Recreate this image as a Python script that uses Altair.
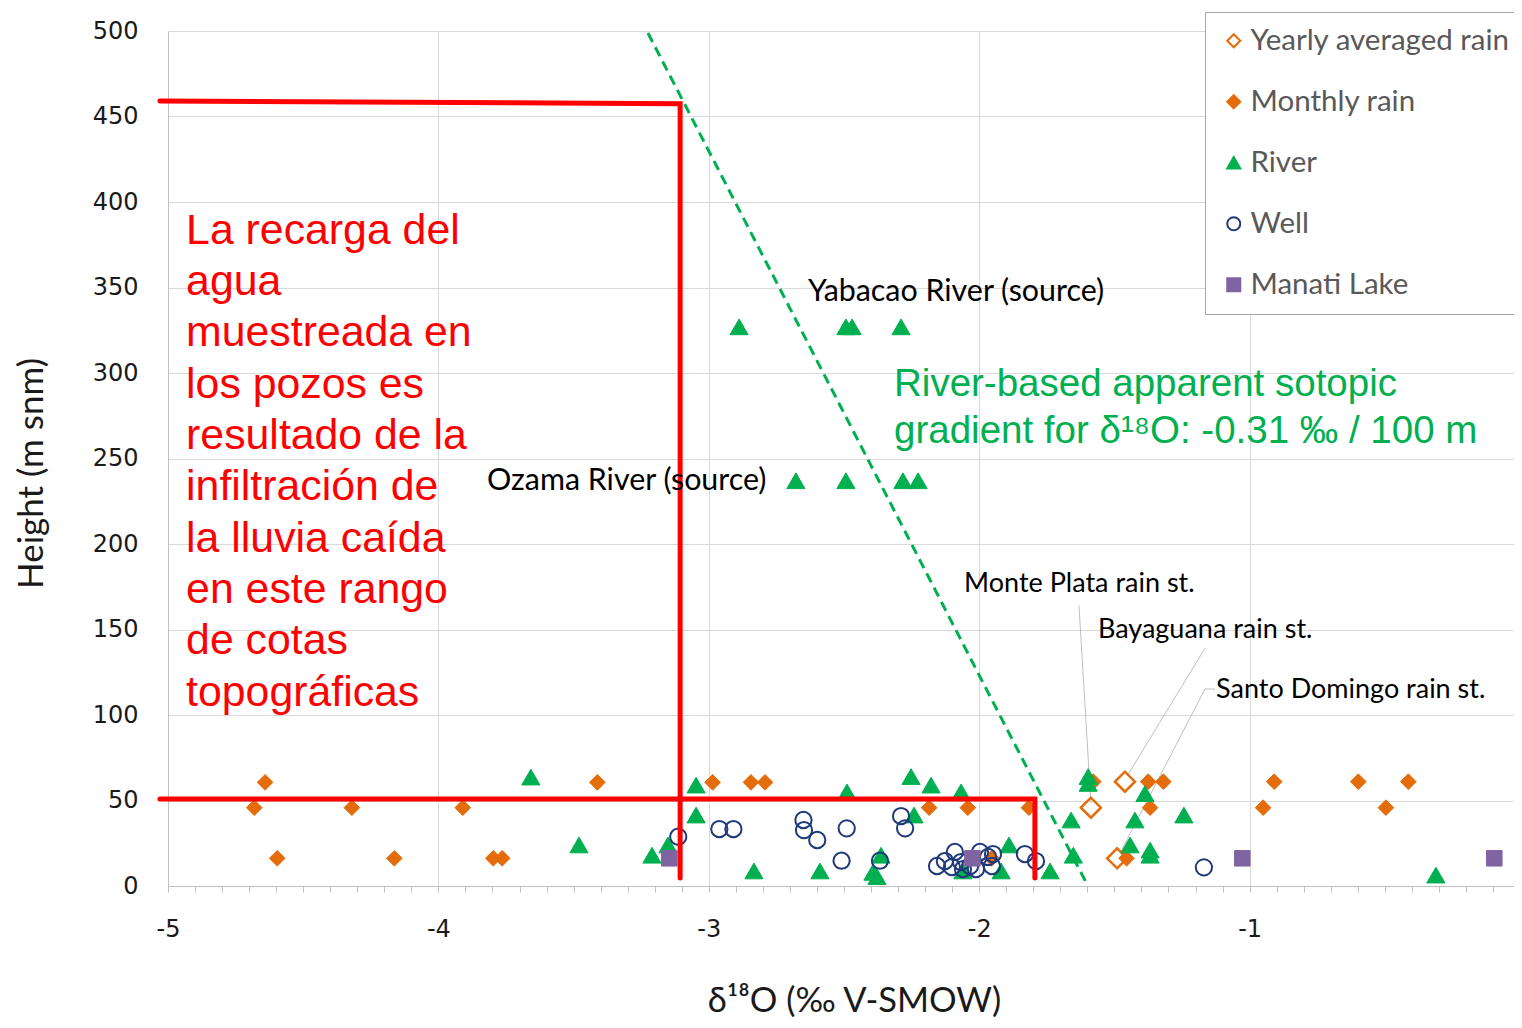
import altair as alt
import pandas as pd

# ---------------- data (δ18O in ‰ V-SMOW, height in m) ----------------
series_order = ["Yearly averaged rain", "Monthly rain", "River", "Well", "Manati Lake"]

yearly_x = [-1.587, -1.461, -1.490]
yearly_h = [45.8, 61.0, 16.2]

monthly_x = [-4.641, -4.681, -4.596, -4.320, -4.163, -3.910, -3.797, -3.764, -3.412,
             -2.986, -2.844, -2.792, -2.185, -2.042, -1.816, -1.954,
             -1.578, -1.375, -1.319, -1.368, -1.455, -0.909, -0.950, -0.598, -0.496, -0.413]
monthly_h = [60.6, 45.8, 16.2, 45.8, 16.2, 45.8, 16.2, 16.2, 60.6,
             60.6, 60.6, 60.6, 45.8, 45.8, 45.8, 16.2,
             61.0, 61.0, 61.0, 45.8, 16.2, 61.0, 45.8, 61.0, 45.8, 61.0]

river_x = [-2.888, -2.493, -2.470, -2.289,
           -2.678, -2.493, -2.282, -2.226,
           -3.658, -3.480, -3.210, -3.151, -3.047, -3.047, -2.833, -2.589, -2.489,
           -2.393, -2.378, -2.363, -2.252, -2.178, -2.067, -2.241, -2.060, -1.919,
           -1.890, -1.738, -1.597, -1.597, -1.660, -1.652, -1.387, -1.424, -1.442,
           -1.368, -1.368, -1.243, -0.311]
river_h = [327, 327, 327, 327,
           237, 237, 237, 237,
           63.7, 24, 18, 24, 59, 41.5, 8.8, 8.8, 55,
           8, 5.5, 18, 64, 59, 55, 41.5, 8.8, 8.8,
           24, 8.8, 64, 60, 38.6, 18, 54, 38.6, 24,
           21, 18, 41.5, 6.4]

well_x = [-3.113, -2.961, -2.909, -2.650, -2.648, -2.599, -2.490, -2.509, -2.367,
          -2.289, -2.274, -2.156, -2.127, -2.090, -2.101, -2.067, -2.060, -2.034,
          -2.012, -1.997, -1.967, -1.953, -1.949, -1.831, -1.790, -1.169]
well_h = [28.8, 33.3, 33.3, 38.6, 32.7, 26.9, 33.7, 14.8, 14.8,
          40.9, 33.7, 11.7, 14.6, 19.9, 11.1, 14.0, 9.9, 11.7,
          9.9, 19.9, 17.0, 11.7, 18.7, 18.7, 14.6, 10.9]

manati_x = [-3.146, -2.025, -1.027, -0.095]
manati_h = [16.2, 16.2, 16.2, 16.2]

# red range lines (drawn shapes)
red_x = [-5.03, -3.106, -3.106, -5.03, -1.794, -1.794]
red_h = [459.0, 457.5, 4.7, 50.9, 50.9, 4.7]
red_seg = [1, 1, 1, 2, 2, 2]

# river-based gradient line
grad_x = [-3.225, -1.598]
grad_h = [498.8, 0.0]

# leader lines for rain stations
lead_x = [-1.631, -1.587, -1.165, -1.453, -1.128, -1.165, -1.479]
lead_h = [164.0, 48.5, 139.0, 64.3, 115.2, 115.2, 19.3]
lead_seg = [1, 1, 2, 2, 3, 3, 3]

# labels
river_label_text = ["Yabacao River (source)", "Ozama River (source)"]
river_label_x = [-2.633, -3.820]
river_label_h = [347.4, 236.8]
rain_label_text = ["Monte Plata rain st.", "Bayaguana rain st.", "Santo Domingo rain st."]
rain_label_x = [-2.056, -1.561, -1.124]
rain_label_h = [176.6, 149.7, 114.6]

red_lines = ["La recarga del", "agua", "muestreada en", "los pozos es", "resultado de la",
             "infiltración de", "la lluvia caída", "en este rango", "de cotas", "topográficas"]
green_lines = ["River-based apparent sotopic", "gradient for δ¹⁸O: -0.31 ‰ / 100 m"]

x_ticks = [round(-5 + i * 0.1, 1) for i in range(50)]
y_ticks = [0, 50, 100, 150, 200, 250, 300, 350, 400, 450, 500]

shapes = ["diamond", "diamond", "triangle-up", "circle", "square"]
strokes = ["#E46C0A", "#E46C0A", "#00B050", "#1F3A7A", "#8064A2"]
fills = ["transparent", "#E46C0A", "#00B050", "transparent", "#8064A2"]
sizes = [400, 245, 330, 265, 240]
stroke_ws = [2.5, 1, 1, 2, 1]

# ---------------- frames ----------------
size_of = dict(zip(series_order, sizes))
sw_of = dict(zip(series_order, stroke_ws))
rows = []
for name, xs, hs in [("Yearly averaged rain", yearly_x, yearly_h),
                     ("Monthly rain", monthly_x, monthly_h),
                     ("River", river_x, river_h),
                     ("Well", well_x, well_h),
                     ("Manati Lake", manati_x, manati_h)]:
    for xv, hv in zip(xs, hs):
        rows.append({"series": name, "sz": size_of[name], "sw": sw_of[name],
                     "d18O": xv, "height": hv})
df = pd.DataFrame(rows)

red_df = pd.DataFrame({"d18O": red_x, "height": red_h, "seg": red_seg, "i": range(len(red_x))})
grad_df = pd.DataFrame({"d18O": grad_x, "height": grad_h})
lead_df = pd.DataFrame({"d18O": lead_x, "height": lead_h, "seg": lead_seg, "i": range(len(lead_x))})
river_lab_df = pd.DataFrame({"d18O": river_label_x, "height": river_label_h, "t": river_label_text})
rain_lab_df = pd.DataFrame({"d18O": rain_label_x, "height": rain_label_h, "t": rain_label_text})
red_txt_df = pd.DataFrame({"d18O": [-4.933], "height": [375.5]})
green_txt_df = pd.DataFrame({"d18O": [-2.315], "height": [286.5]})

is_int = "abs(datum.value - round(datum.value)) < 0.001"

x_axis = alt.Axis(values=x_ticks, title="δ¹⁸O (‰ V-SMOW)",
                  labelExpr=f"{is_int} ? '' + round(datum.value) : ''",
                  labelOverlap=False, labelFlush=False, labelBound=False,
                  labelFont="DejaVu Sans", labelFontSize=24, labelColor="#1a1a1a",
                  labelPadding=25, tickSize=6, tickColor="#bfbfbf", domainColor="#bfbfbf",
                  gridColor="#d9d9d9",
                  gridOpacity={"condition": {"test": is_int, "value": 1}, "value": 0},
                  titleFont="Lato", titleFontSize=34.5, titleFontWeight="normal",
                  titleColor="#1a1a1a", titlePadding=43, titleX=686)
y_axis = alt.Axis(values=y_ticks, title="Height (m snm)", ticks=False, labelPadding=30,
                  labelFlush=False, labelFont="DejaVu Sans", labelFontSize=24,
                  labelColor="#1a1a1a", domainColor="#bfbfbf", gridColor="#d9d9d9",
                  titleFont="Lato", titleFontSize=35, titleFontWeight="normal",
                  titleColor="#1a1a1a", titlePadding=43, titleY=442)

# plot area spans 1346 px at 270.4 px per ‰ (right edge just short of 0)
x_scale = alt.Scale(domain=[-5, -0.0222], nice=False, zero=False)
y_scale = alt.Scale(domain=[0, 500], nice=False, zero=False)
X = alt.X("d18O:Q", scale=x_scale, axis=x_axis)
Y = alt.Y("height:Q", scale=y_scale, axis=y_axis)

legend = alt.Legend(title=None, orient="none", legendX=1037, legendY=-19, padding=14,
                    strokeColor="#a6a6a6", fillColor="white", labelFont="Lato",
                    labelFontSize=29.5, labelColor="#595959", symbolSize=170,
                    symbolStrokeWidth=2, rowPadding=30, labelOffset=2, labelLimit=400)

points = alt.Chart(df).mark_point(opacity=1, filled=False).encode(
    x=X, y=Y,
    shape=alt.Shape("series:N", scale=alt.Scale(domain=series_order, range=shapes), legend=legend),
    stroke=alt.Stroke("series:N", scale=alt.Scale(domain=series_order, range=strokes), legend=legend),
    fill=alt.Fill("series:N", scale=alt.Scale(domain=series_order, range=fills), legend=legend),
    size=alt.Size("sz:Q", scale=None),
    strokeWidth=alt.StrokeWidth("sw:Q", scale=None),
)

grad = alt.Chart(grad_df).mark_line(color="#00B050", strokeWidth=3, strokeDash=[10, 6]).encode(x=X, y=Y)
leaders = alt.Chart(lead_df).mark_line(color="#bfbfbf", strokeWidth=1).encode(
    x=X, y=Y, detail="seg:N", order="i:Q")
red = alt.Chart(red_df).mark_line(color="#FF0000", strokeWidth=5, strokeCap="round").encode(
    x=X, y=Y, detail="seg:N", order="i:Q")
river_labels = alt.Chart(river_lab_df).mark_text(align="left", baseline="middle", font="Lato",
                                                 fontSize=30.4, color="#000000").encode(x=X, y=Y, text="t:N")
rain_labels = alt.Chart(rain_lab_df).mark_text(align="left", baseline="middle", font="Lato",
                                               fontSize=27, color="#000000").encode(x=X, y=Y, text="t:N")
red_txt = alt.Chart(red_txt_df).mark_text(text=red_lines, align="left", baseline="alphabetic",
                                          font="Liberation Sans", fontSize=42.8, lineHeight=51.3,
                                          color="#FF0000").encode(x=X, y=Y)
green_txt = alt.Chart(green_txt_df).mark_text(text=green_lines, align="left", baseline="alphabetic",
                                              font="Liberation Sans", fontSize=38.5, lineHeight=47,
                                              color="#00B050").encode(x=X, y=Y)

chart = alt.layer(grad, leaders, points, red, river_labels, rain_labels, red_txt, green_txt).properties(
    width=1346, height=855,
    autosize=alt.AutoSizeParams(type="none"),
    padding={"left": 160, "top": 23, "right": 0, "bottom": 133},
).configure_view(stroke=None)

chart.save("out.html", embed_options={"renderer": "svg", "actions": False})
